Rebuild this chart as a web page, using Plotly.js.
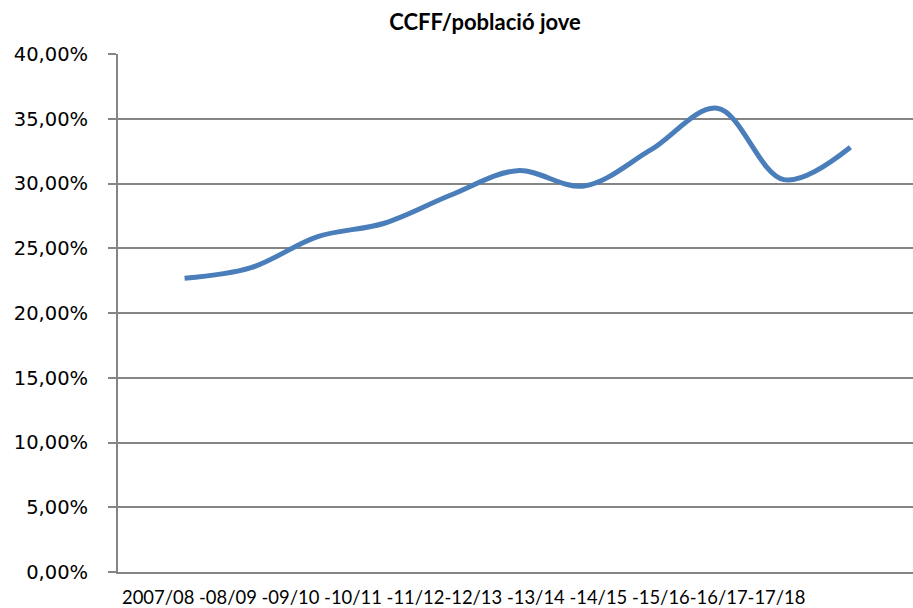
<!DOCTYPE html>
<html>
<head>
<meta charset="utf-8">
<script src="https://cdn.plot.ly/plotly-3.0.1.min.js"></script>
<style>html,body{margin:0;padding:0;background:#fff;}#chart{width:913px;height:608px;}</style>
</head>
<body>
<div id="chart"></div>
<script>
// Data
const seasons = ["2007/08", "2008/09", "2009/10", "2010/11", "2011/12", "2012/13", "2013/14", "2014/15", "2015/16", "2016/17", "2017/18"];
const ratio = [0.2268, 0.2350, 0.2590, 0.2693, 0.2911, 0.3099, 0.2981, 0.3259, 0.3581, 0.3030, 0.3280];
const xAxisLabel = "2007/08 -08/09 -09/10 -10/11 -11/12-12/13 -13/14 -14/15 -15/16-16/17-17/18";
const yTicks = [0, 0.05, 0.10, 0.15, 0.20, 0.25, 0.30, 0.35, 0.40];
const chartTitle = "CCFF/població jove";

const xPos = seasons.map((s, i) => i + 1);
const gridCol = "#858585";

const trace = {
  x: xPos,
  y: ratio,
  text: seasons,
  type: "scatter",
  mode: "lines",
  line: {color: "#4a7ebb", width: 5, shape: "spline", smoothing: 1},
  hovertemplate: "%{text}: %{y:.2%}<extra></extra>"
};

const layout = {
  width: 913, height: 608,
  margin: {l: 118, r: 0, t: 54, b: 36, pad: 0},
  paper_bgcolor: "#ffffff", plot_bgcolor: "#ffffff",
  separators: ", ",
  showlegend: false,
  title: {
    text: chartTitle,
    font: {family: "Lato, 'Noto Sans', sans-serif", size: 22, color: "#000000", weight: "bold"},
    x: 485 / 913, xref: "container", xanchor: "center",
    y: 1 - 22 / 608, yref: "container", yanchor: "middle"
  },
  xaxis: {
    type: "linear", range: [0, 11.94],
    showgrid: false, zeroline: false, showticklabels: false,
    ticks: "", showline: true, linecolor: gridCol, linewidth: 2,
    fixedrange: true
  },
  yaxis: {
    range: [0, 0.4], tickvals: yTicks, tickformat: ".2%",
    showgrid: true, gridcolor: gridCol, gridwidth: 2,
    zeroline: false, showline: true, linecolor: gridCol, linewidth: 2,
    ticks: "outside", ticklen: 8, tickcolor: gridCol, tickwidth: 2,
    ticklabelstandoff: 16,
    tickfont: {family: "'DejaVu Sans', Verdana, sans-serif", size: 19.5, color: "#000000"},
    fixedrange: true
  },
  annotations: [{
    text: xAxisLabel, xref: "x", yref: "paper", x: 0, y: -25 / 518,
    xanchor: "left", yanchor: "middle", showarrow: false, xshift: 2,
    font: {family: "Lato, 'Noto Sans', sans-serif", size: 18.4, color: "#000000"}
  }]
};

Plotly.newPlot("chart", [trace], layout, {displayModeBar: false, staticPlot: true});
</script>
</body>
</html>
